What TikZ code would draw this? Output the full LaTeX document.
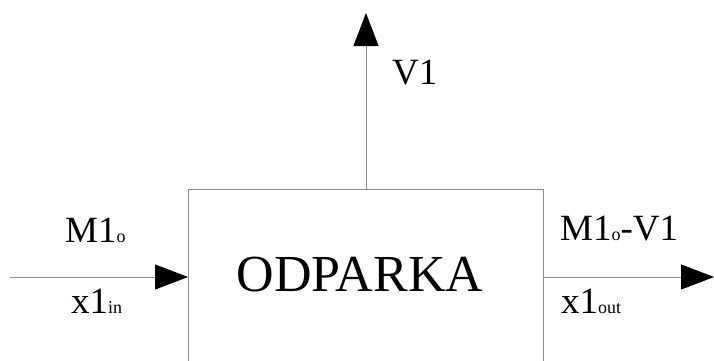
\documentclass[tikz,border=0pt]{standalone}
\usepackage{fontspec}
\setmainfont{Liberation Serif}
\usetikzlibrary{arrows.meta}
\tikzset{
  conn/.style={draw=black!45, line width=1pt, -{Triangle[length=33pt,width=25pt,color=black,fill=black]}},
  lbl/.style={anchor=base west, inner sep=0pt, font=\fontsize{37}{37}\selectfont},
  boxst/.style={draw=black!45, line width=1pt, fill=white, inner sep=0pt, anchor=north west, minimum width=355pt, minimum height=200pt}
}
\newcommand{\sbs}[1]{{\fontsize{18}{18}\selectfont #1}}
\begin{document}
\begin{tikzpicture}[x=1pt,y=-1pt]
\useasboundingbox (0,0) rectangle (714,360);
\begin{scope}
\clip (0,0) rectangle (714,360);
\node[boxst] (box) at (188,189) {};
\end{scope}
\node[anchor=base, inner sep=0pt, font=\fontsize{52}{52}\selectfont] (title) at (360,291) {ODPARKA};
\coordinate (inS) at (10,277);
\coordinate (inE) at (188,277);
\coordinate (outS) at (543,277);
\coordinate (outE) at (714,277);
\coordinate (upS) at (366,189);
\coordinate (upE) at (366,13);
\draw[conn] (inS) -- (inE);
\draw[conn] (outS) -- (outE);
\draw[conn] (upS) -- (upE);
\node[lbl] (m1in) at (65,242) {M1\sbs{o}};
\node[lbl] (x1in) at (71,313) {x1\sbs{in}};
\node[lbl] (v1) at (392,84) {V1};
\node[lbl] (m1out) at (560,240) {M1\sbs{o}-V1};
\node[lbl] (x1out) at (561,313) {x1\sbs{out}};
\end{tikzpicture}
\end{document}
